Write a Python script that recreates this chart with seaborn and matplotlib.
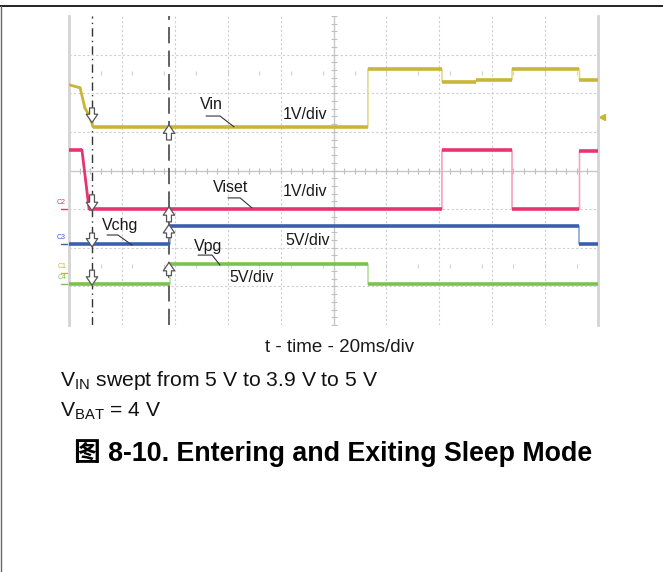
import numpy as np
import pandas as pd
import matplotlib
matplotlib.use("Agg")
import matplotlib.pyplot as plt
from matplotlib.lines import Line2D
import seaborn as sns

# ---------------- data (time in ms, 20 ms/div; level in screen divisions) -------------
vin_t = [0, 4.2, 6.0, 7.9, 9.1, 113.0, 113.0, 141.0, 141.0, 154.0, 154.0, 167.5, 167.5, 193.0, 193.0, 200]
vin_v = [6.22, 6.14, 5.62, 5.39, 5.13, 5.13, 6.63, 6.63, 6.30, 6.30, 6.35, 6.35, 6.63, 6.63, 6.35, 6.35]

viset_t = [0, 4.9, 7.6, 141.0, 141.0, 167.5, 167.5, 193.0, 193.0, 200]
viset_v = [4.53, 4.53, 3.00, 3.00, 4.53, 4.53, 3.00, 3.00, 4.50, 4.50]

vchg_t = [0, 38.2, 38.2, 193.0, 193.0, 200]
vchg_v = [2.10, 2.10, 2.56, 2.56, 2.10, 2.10]

vpg_t = [0, 38.2, 38.2, 113.0, 113.0, 200]
vpg_v = [1.06, 1.06, 1.58, 1.58, 1.06, 1.06]

trace_names = ["Vin", "Viset", "Vchg", "Vpg"]
trace_colors = ["#c9b637", "#e8346f", "#3b5fae", "#7cc24f"]
trace_edge_colors = ["#e3d98c", "#f5a3bf", "#8fa6d6", "#b8e09b"]
channel_tags = ["C1", "C2", "C3", "C4"]

cursor_a = 8.7     # dash-dot cursor (ms)
cursor_b = 37.8    # dashed cursor (ms)

# arrow markers at cursors: (tail, tip) levels in div
down_arrows = [(5.62, 5.24), (3.37, 2.96), (2.38, 2.02), (1.42, 1.03)]
up_arrows = [(4.79, 5.18), (2.67, 3.06), (2.26, 2.60), (1.28, 1.62)]

# ---------------- figure ----------------
sns.set_theme(style="white")
plt.rcParams["font.family"] = ["Liberation Sans", "Noto Sans CJK SC", "DejaVu Sans"]
plt.rcParams["mathtext.fontset"] = "custom"
plt.rcParams["mathtext.rm"] = "Liberation Sans"

W, H = 663, 572
fig = plt.figure(figsize=(W / 100, H / 100), dpi=100)
fig.patch.set_facecolor("white")
ax = fig.add_axes([69 / W, 1 - 325 / H, (598 - 69) / W, (325 - 16) / H])
ax.set_xlim(0, 200)
ax.set_ylim(0, 8)
ax.set_xticks([])
ax.set_yticks([])
for s in ["top", "bottom"]:
    ax.spines[s].set_visible(False)
for s in ["left", "right"]:
    ax.spines[s].set_color("#d4d4d4")
    ax.spines[s].set_linewidth(2.0)

# graticule
grid_kw = dict(color="#cfcfcf", lw=0.8, ls=(0, (2, 2)), zorder=0)
for gx in np.arange(20, 200, 20):
    if gx != 100:
        ax.axvline(gx, **grid_kw)
for gy in np.arange(1, 8, 1):
    if gy != 4:
        ax.axhline(gy, **grid_kw)
ax.axvline(100, color="#c8c8c8", lw=1.0, zorder=0)
ax.axhline(4, color="#c8c8c8", lw=1.0, zorder=0)
ax.plot(np.arange(0, 200.1, 4), np.full(51, 4.0), ls="none", marker="|", ms=4,
        color="#c0c0c0", mew=0.8, zorder=0)
ax.plot(np.full(41, 100.0), np.arange(0, 8.01, 0.2), ls="none", marker="_", ms=4,
        color="#c0c0c0", mew=0.8, zorder=0)
for ly in [6.53, 1.53]:
    xs = np.arange(12, 200, 12)
    ax.plot(xs, np.full(len(xs), ly), ls="none", marker="|", ms=3, color="#d0d0d0",
            mew=0.8, zorder=0)

# cursors
ax.axvline(cursor_a, color="#333333", lw=1.0, ls=(0, (6, 3, 1, 3)), zorder=1)
ax.axvline(cursor_b, color="#555555", lw=1.3, ls=(0, (9, 4)), zorder=1)

# traces
traces = [(vin_t, vin_v), (viset_t, viset_v), (vchg_t, vchg_v), (vpg_t, vpg_v)]
for (t, v), name, col, ecol in zip(traces, trace_names, trace_colors, trace_edge_colors):
    df = pd.DataFrame({"t": t, "v": v})
    sns.lineplot(data=df, x="t", y="v", sort=False, estimator=None, color=ecol,
                 lw=1.2, ax=ax, zorder=2)
    t_arr, v_arr = np.array(t), np.array(v)
    flat = np.isclose(v_arr[:-1], v_arr[1:])
    ax.hlines(v_arr[:-1][flat], t_arr[:-1][flat], t_arr[1:][flat], color=col, lw=2.6, zorder=3)
    for i in range(len(t) - 1):
        if not flat[i] and t_arr[i + 1] != t_arr[i]:
            ax.plot(t_arr[i:i + 2], v_arr[i:i + 2], color=col, lw=2.0, zorder=3)

# arrows at cursors
arrow_kw = dict(arrowstyle="simple,head_length=0.55,head_width=0.75,tail_width=0.32",
                fc="white", ec="#555555", lw=0.9, shrinkA=0, shrinkB=0, mutation_scale=11)
for tail, tip in down_arrows:
    ax.annotate("", xy=(cursor_a, tip), xytext=(cursor_a, tail), arrowprops=arrow_kw, zorder=4)
for tail, tip in up_arrows:
    ax.annotate("", xy=(cursor_b, tip), xytext=(cursor_b, tail), arrowprops=arrow_kw, zorder=4)

# channel tags on left edge
tag_levels = {"C1": 1.34, "C2": 3.00, "C3": 2.10, "C4": 1.06}
tag_colors = dict(zip(channel_tags, trace_colors))
for tag in channel_tags:
    lv = tag_levels[tag]
    ax.text(-2.8, lv + 0.08, tag, fontsize=5, color=tag_colors[tag], ha="center", va="bottom",
            clip_on=False)
    ax.plot([-3.2, -0.2], [lv, lv], color=tag_colors[tag], lw=1.0, clip_on=False)
ax.plot([201.6], [5.39], marker="<", ms=5, color=trace_colors[0], clip_on=False)

# trace labels and scale labels
lab_kw = dict(fontsize=11.5, color="#1a1a1a", ha="center", va="center", zorder=5)
ax.text(53.7, 5.72, "Vin", **lab_kw)
ax.text(89.4, 5.44, "1V/div", **lab_kw)
ax.text(61.2, 3.57, "Viset", **lab_kw)
ax.text(89.4, 3.45, "1V/div", **lab_kw)
ax.text(19.3, 2.58, "Vchg", **lab_kw)
ax.text(90.4, 2.20, "5V/div", **lab_kw)
ax.text(52.6, 2.04, "Vpg", **lab_kw)
ax.text(69.2, 1.24, "5V/div", **lab_kw)

leaders = [
    ([51.8, 57.1, 62.4], [5.41, 5.41, 5.13]),
    ([60.1, 64.7, 69.2], [3.29, 3.29, 3.03]),
    ([14.4, 18.5, 23.8], [2.33, 2.33, 2.07]),
    ([48.8, 54.1, 57.1], [1.81, 1.81, 1.55]),
]
for lx, ly in leaders:
    ax.plot(lx, ly, color="#333333", lw=0.8, zorder=5)

# text below
fig.text(340 / W, 1 - 347 / H, "t - time - 20ms/div", fontsize=13.5, ha="center", va="center",
         color="#1a1a1a")
fig.text(60 / W, 1 - 380 / H, r"V$_{\mathrm{IN}}$ swept from 5 V to 3.9 V to 5 V", fontsize=15.2,
         ha="left", va="center", color="#111111")
fig.text(60 / W, 1 - 411 / H, r"V$_{\mathrm{BAT}}$ = 4 V", fontsize=15.2, ha="left", va="center",
         color="#111111")
fig.text(333 / W, 1 - 453 / H, "图 8-10. Entering and Exiting Sleep Mode", fontsize=19.3,
         fontweight="bold", ha="center", va="center", color="#000000")

# page frame
fig.add_artist(Line2D([0, 1], [1 - 5.5 / H, 1 - 5.5 / H], color="#111111", lw=1.3))
fig.add_artist(Line2D([0.5 / W, 0.5 / W], [0, 1 - 5.5 / H], color="#666666", lw=1.0))

fig.savefig("out.png", dpi=100)
